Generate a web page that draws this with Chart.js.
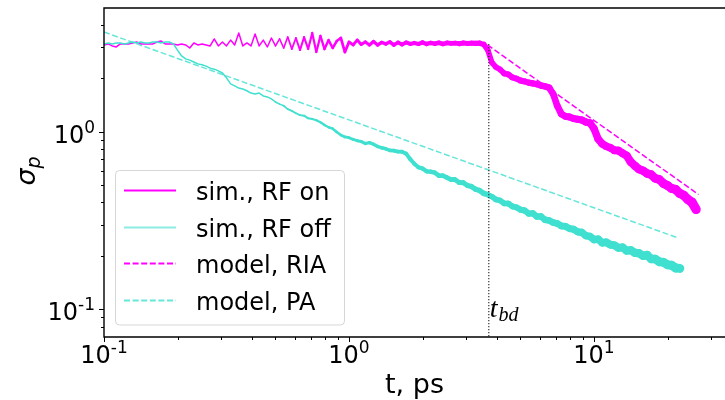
<!DOCTYPE html>
<html>
<head>
<meta charset="utf-8">
<script src="https://cdn.jsdelivr.net/npm/chart.js"></script>
<style>
  html, body { margin: 0; padding: 0; background: #fff; }
  canvas { display: block; }
</style>
</head>
<body>
<canvas id="sigmaChart" width="725" height="400"></canvas>
<script>
// Partie donnees
const simTime = [
  0.1000, 0.1039, 0.1080, 0.1122, 0.1166, 0.1212, 0.1259, 0.1308, 0.1359, 0.1413,
  0.1468, 0.1525, 0.1585, 0.1647, 0.1711, 0.1778, 0.1848, 0.1920, 0.1995, 0.2073,
  0.2154, 0.2239, 0.2326, 0.2417, 0.2512, 0.2610, 0.2712, 0.2818, 0.2929, 0.3043,
  0.3162, 0.3286, 0.3415, 0.3548, 0.3687, 0.3831, 0.3981, 0.4137, 0.4299, 0.4467,
  0.4642, 0.4823, 0.5012, 0.5208, 0.5412, 0.5623, 0.5843, 0.6072, 0.6310, 0.6556,
  0.6813, 0.7079, 0.7356, 0.7644, 0.7943, 0.8254, 0.8577, 0.8913, 0.9261, 0.9624,
  1.000, 1.039, 1.080, 1.122, 1.166, 1.212, 1.259, 1.308, 1.359, 1.413,
  1.468, 1.525, 1.585, 1.647, 1.711, 1.778, 1.848, 1.920, 1.995, 2.073,
  2.154, 2.239, 2.326, 2.417, 2.512, 2.610, 2.712, 2.818, 2.929, 3.043,
  3.162, 3.286, 3.415, 3.548, 3.687, 3.831, 3.981, 4.137, 4.299, 4.467,
  4.642, 4.823, 5.012, 5.208, 5.412, 5.623, 5.843, 6.072, 6.310, 6.556,
  6.813, 7.079, 7.356, 7.644, 7.943, 8.254, 8.577, 8.913, 9.261, 9.624,
  10.00, 10.39, 10.80, 11.22, 11.66, 12.12, 12.59, 13.08, 13.59, 14.13,
  14.68, 15.25, 15.85, 16.47, 17.11, 17.78, 18.48, 19.20, 19.95, 20.73,
  21.54, 22.39, 23.26, 24.17, 25.12, 26.10
];

const rfOnSigma = [
  3.08, 3.12, 3.04, 3.00, 3.12, 3.12, 3.12, 3.16, 3.20, 3.12,
  3.12, 3.12, 3.12, 3.20, 3.24, 3.12, 3.12, 3.12, 3.08, 3.12,
  3.08, 2.96, 3.16, 3.08, 3.12, 3.08, 3.04, 3.33, 3.04, 3.20,
  3.04, 3.28, 3.08, 3.60, 3.04, 3.16, 3.04, 3.55, 3.04, 3.28,
  3.00, 3.37, 3.04, 3.33, 2.96, 3.41, 2.92, 3.37, 2.88, 3.41,
  2.92, 3.60, 2.81, 3.46, 2.92, 3.28, 2.96, 3.24, 3.37, 2.81,
  3.20, 3.08, 3.28, 3.10, 3.20, 3.08, 3.22, 3.08, 3.18, 3.12,
  3.20, 3.08, 3.18, 3.10, 3.18, 3.12, 3.16, 3.12, 3.18, 3.12,
  3.16, 3.13, 3.17, 3.12, 3.16, 3.14, 3.15, 3.13, 3.16, 3.14,
  3.15, 3.14, 3.15, 3.10, 2.88, 2.45, 2.31, 2.24, 2.13, 2.10,
  2.02, 1.99, 1.94, 1.92, 1.89, 1.87, 1.85, 1.82, 1.80, 1.77,
  1.63, 1.40, 1.26, 1.22, 1.21, 1.185, 1.175, 1.165, 1.135, 1.12,
  1.04, 0.91, 0.855, 0.828, 0.812, 0.786, 0.782, 0.756, 0.733, 0.675,
  0.643, 0.615, 0.604, 0.582, 0.573, 0.546, 0.538, 0.511, 0.498, 0.479,
  0.473, 0.449, 0.438, 0.415, 0.400, 0.365
];

const rfOffSigma = [
  3.12, 3.16, 3.12, 3.16, 3.16, 3.12, 3.16, 3.20, 3.16, 3.20,
  3.16, 3.16, 3.20, 3.20, 3.16, 3.20, 3.20, 3.12, 2.88, 2.67,
  2.57, 2.53, 2.47, 2.41, 2.38, 2.34, 2.28, 2.25, 2.20, 2.14,
  2.01, 1.86, 1.81, 1.76, 1.74, 1.70, 1.65, 1.63, 1.65, 1.59,
  1.57, 1.53, 1.47, 1.43, 1.40, 1.34, 1.31, 1.27, 1.24, 1.23,
  1.19, 1.18, 1.16, 1.13, 1.09, 1.06, 1.04, 0.996, 0.958, 0.934,
  0.925, 0.905, 0.890, 0.880, 0.858, 0.868, 0.850, 0.826, 0.812, 0.801,
  0.785, 0.782, 0.772, 0.771, 0.752, 0.700, 0.660, 0.630, 0.620, 0.598,
  0.595, 0.588, 0.566, 0.565, 0.552, 0.538, 0.537, 0.518, 0.516, 0.498,
  0.491, 0.474, 0.466, 0.449, 0.442, 0.431, 0.415, 0.410, 0.395, 0.394,
  0.380, 0.375, 0.364, 0.360, 0.346, 0.347, 0.333, 0.333, 0.319, 0.316,
  0.308, 0.304, 0.295, 0.293, 0.285, 0.282, 0.273, 0.271, 0.260, 0.257,
  0.247, 0.248, 0.237, 0.238, 0.231, 0.229, 0.222, 0.223, 0.214, 0.215,
  0.208, 0.207, 0.200, 0.202, 0.192, 0.192, 0.185, 0.184, 0.178, 0.177,
  0.171, 0.170
];

const modelRiaTime = [3.675, 26.7];
const modelRiaSigma = [3.08, 0.443];
const modelPaTime = [0.1, 22.1];
const modelPaSigma = [3.64, 0.252];

const tbd = 3.72;
const tbdLineSigma = [3.12, 0.0698];
const tbdLabelSigma = 0.0905;

const xRange = [0.1, 34.25];
const yRange = [0.06982, 4.972];
const xTickValues = [0.1, 1, 10];
const xTickExp = ["-1", "0", "1"];
const yTickValues = [0.1, 1];
const yTickExp = ["-1", "0"];

const legendLabels = ["sim., RF on", "sim., RF off", "model, RIA", "model, PA"];

const MAGENTA = "rgb(255, 0, 255)";
const TURQ = "rgb(64, 224, 208)";
const TURQ_LIGHT = "rgba(64, 224, 208, 0.6)";

function toPoints(times, values) {
    return values.map((v, i) => ({ x: times[i], y: v }));
}

// epaisseur du bruit dense (la courbe devient une bande)
function noiseWidth(ctx) {
    const t = ctx.p0.parsed.x;
    const w = 1.5 + 4.6 * (Math.log10(t) + 0.3);
    return Math.max(1.5, Math.min(10, w));
}

// Partie dessin des axes, legende, textes
function drawPow(ctx, exp, x, yBase, align) {
    ctx.font = '24px "DejaVu Sans"';
    const wb = ctx.measureText("10").width;
    ctx.font = '17px "DejaVu Sans"';
    const we = ctx.measureText(exp).width;
    const x0 = align === "center" ? x - (wb + we) / 2 : x - (wb + we);
    ctx.textAlign = "left";
    ctx.textBaseline = "alphabetic";
    ctx.font = '24px "DejaVu Sans"';
    ctx.fillText("10", x0, yBase);
    ctx.font = '17px "DejaVu Sans"';
    ctx.fillText(exp, x0 + wb, yBase - 10);
}

const decorPlugin = {
    id: "decor",
    afterDatasetsDraw(chart) {
        const ctx = chart.ctx;
        const a = chart.chartArea;
        const xs = chart.scales.x;
        const ys = chart.scales.y;
        ctx.save();

        // t_bd
        const lx = xs.getPixelForValue(tbd) + 1;
        const ly = ys.getPixelForValue(tbdLabelSigma);
        ctx.fillStyle = "#000";
        ctx.textAlign = "left";
        ctx.textBaseline = "alphabetic";
        ctx.font = 'italic 28px "Liberation Serif"';
        ctx.fillText("t", lx, ly);
        const wt = ctx.measureText("t").width;
        ctx.font = 'italic 20px "Liberation Serif"';
        ctx.fillText("bd", lx + wt + 1, ly + 4);

        // legende
        const L = { x: 115.5, y: 170.5, w: 229, h: 154.5, r: 4 };
        ctx.beginPath();
        ctx.roundRect(L.x, L.y, L.w, L.h, L.r);
        ctx.fillStyle = "rgba(255, 255, 255, 0.8)";
        ctx.fill();
        ctx.strokeStyle = "rgba(204, 204, 204, 0.8)";
        ctx.lineWidth = 1;
        ctx.stroke();
        const rowY = [190.5, 227.5, 263.5, 300.5];
        const ds = chart.data.datasets;
        for (let i = 0; i < legendLabels.length; i++) {
            const d = ds.find(s => s.label === legendLabels[i]);
            ctx.beginPath();
            ctx.setLineDash(d.borderDash || []);
            ctx.strokeStyle = d.legendColor || d.borderColor;
            ctx.lineWidth = 2;
            ctx.lineCap = "butt";
            ctx.moveTo(124, rowY[i]);
            ctx.lineTo(176, rowY[i]);
            ctx.stroke();
            ctx.setLineDash([]);
            ctx.fillStyle = "#000";
            ctx.font = '24px "DejaVu Sans"';
            ctx.textAlign = "left";
            ctx.fillText(legendLabels[i], 196, rowY[i] + 9.5);
        }

        // cadre
        ctx.strokeStyle = "#000";
        ctx.lineWidth = 1.4;
        ctx.beginPath();
        ctx.moveTo(a.right + 2, a.top);
        ctx.lineTo(a.left, a.top);
        ctx.lineTo(a.left, a.bottom);
        ctx.lineTo(a.right + 2, a.bottom);
        ctx.stroke();

        // graduations
        ctx.lineWidth = 1;
        ctx.beginPath();
        for (let e = -1; e <= 1; e++) {
            for (let m = 1; m <= 9; m++) {
                const v = m * Math.pow(10, e);
                const px = xs.getPixelForValue(v);
                if (px < a.left - 0.5 || px > a.right) continue;
                const len = m === 1 ? 5 : 3;
                ctx.moveTo(Math.round(px) + 0.5, a.bottom);
                ctx.lineTo(Math.round(px) + 0.5, a.bottom + len);
            }
        }
        for (let e = -2; e <= 0; e++) {
            for (let m = 1; m <= 9; m++) {
                const v = m * Math.pow(10, e);
                const py = ys.getPixelForValue(v);
                if (py < a.top || py > a.bottom - 1) continue;
                const len = m === 1 ? 5 : 3;
                ctx.moveTo(a.left, Math.round(py) + 0.5);
                ctx.lineTo(a.left - len, Math.round(py) + 0.5);
            }
        }
        ctx.stroke();

        ctx.fillStyle = "#000";
        xTickValues.forEach((v, i) => {
            drawPow(ctx, xTickExp[i], xs.getPixelForValue(v), a.bottom + 26, "center");
        });
        yTickValues.forEach((v, i) => {
            drawPow(ctx, yTickExp[i], a.left - 9, ys.getPixelForValue(v) + 11, "right");
        });

        // titres des axes
        ctx.font = '27px "DejaVu Sans"';
        ctx.textAlign = "center";
        ctx.fillText("t, ps", (a.left + a.right) / 2, 393);

        ctx.translate(35, 171);
        ctx.rotate(-Math.PI / 2);
        ctx.font = 'italic 27px "DejaVu Sans"';
        const ws = ctx.measureText("\u03c3").width;
        ctx.font = 'italic 19px "DejaVu Sans"';
        const wp = ctx.measureText("p").width;
        const start = -(ws + wp) / 2;
        ctx.textAlign = "left";
        ctx.font = 'italic 27px "DejaVu Sans"';
        ctx.fillText("\u03c3", start, 0);
        ctx.font = 'italic 19px "DejaVu Sans"';
        ctx.fillText("p", start + ws, 5);

        ctx.restore();
    }
};

// Partie graphe
function initSigmaChart() {
    const ctx = document.getElementById("sigmaChart").getContext("2d");
    new Chart(ctx, {
        type: "line",
        data: {
            datasets: [
                {
                    label: "t_bd",
                    data: toPoints([tbd, tbd], tbdLineSigma),
                    borderColor: "#333",
                    borderWidth: 1.2,
                    borderDash: [1.3, 1.7],
                    order: 0
                },
                {
                    label: "model, PA",
                    data: toPoints(modelPaTime, modelPaSigma),
                    borderColor: "rgba(64, 224, 208, 0.8)",
                    borderWidth: 1.5,
                    borderDash: [6, 2.6],
                    order: 1
                },
                {
                    label: "model, RIA",
                    data: toPoints(modelRiaTime, modelRiaSigma),
                    borderColor: MAGENTA,
                    borderWidth: 1.5,
                    borderDash: [6, 2.6],
                    order: 2
                },
                {
                    label: "sim., RF off",
                    data: toPoints(simTime, rfOffSigma),
                    borderColor: TURQ,
                    legendColor: TURQ_LIGHT,
                    borderWidth: 1.5,
                    borderCapStyle: "round",
                    borderJoinStyle: "round",
                    segment: { borderWidth: noiseWidth },
                    order: 3
                },
                {
                    label: "sim., RF on",
                    data: toPoints(simTime, rfOnSigma),
                    borderColor: MAGENTA,
                    borderWidth: 1.5,
                    borderCapStyle: "round",
                    borderJoinStyle: "round",
                    segment: { borderWidth: noiseWidth },
                    order: 4
                }
            ]
        },
        options: {
            responsive: false,
            animation: false,
            devicePixelRatio: 1,
            events: [],
            layout: { padding: { left: 104, top: 8, right: 0, bottom: 63 } },
            elements: { point: { radius: 0 }, line: { tension: 0, fill: false } },
            plugins: {
                legend: { display: false },
                tooltip: { enabled: false }
            },
            scales: {
                x: { type: "logarithmic", min: xRange[0], max: xRange[1], display: false },
                y: { type: "logarithmic", min: yRange[0], max: yRange[1], display: false }
            }
        },
        plugins: [decorPlugin]
    });
}

document.addEventListener("DOMContentLoaded", () => {
    initSigmaChart();
});
</script>
</body>
</html>
